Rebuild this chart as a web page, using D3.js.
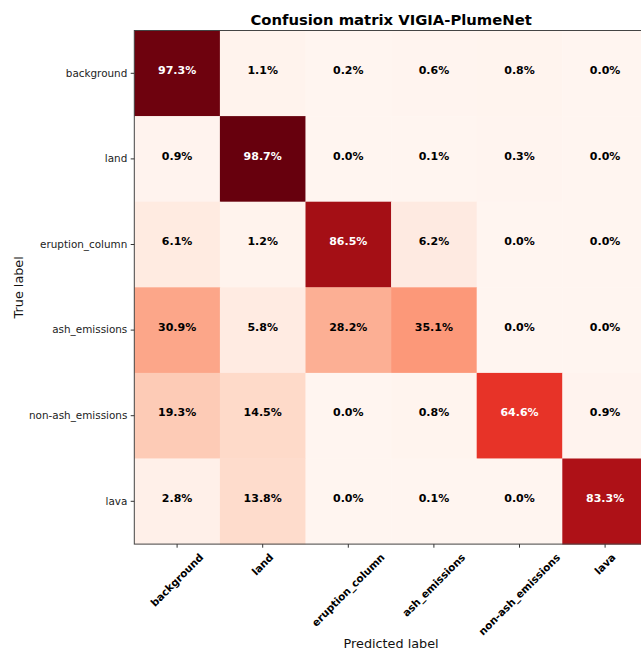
<!DOCTYPE html>
<html>
<head>
<meta charset="utf-8">
<script src="https://cdn.jsdelivr.net/npm/d3@7"></script>
<style>
  html, body { margin: 0; padding: 0; background: #fff; }
  svg { display: block; font-family: "DejaVu Sans", sans-serif; }
</style>
</head>
<body>
<svg id="chart" width="641" height="651"></svg>
<script>
// Class names, in the same order for rows (true) and columns (predicted)
const classes = ["background", "land", "eruption_column", "ash_emissions", "non-ash_emissions", "lava"];

// Row-normalised confusion matrix values, in percent (rows = true label)
const rowBackground = [97.3, 1.1, 0.2, 0.6, 0.8, 0.0];
const rowLand = [0.9, 98.7, 0.0, 0.1, 0.3, 0.0];
const rowEruptionColumn = [6.1, 1.2, 86.5, 6.2, 0.0, 0.0];
const rowAshEmissions = [30.9, 5.8, 28.2, 35.1, 0.0, 0.0];
const rowNonAshEmissions = [19.3, 14.5, 0.0, 0.8, 64.6, 0.9];
const rowLava = [2.8, 13.8, 0.0, 0.1, 0.0, 83.3];
const matrix = [rowBackground, rowLand, rowEruptionColumn, rowAshEmissions, rowNonAshEmissions, rowLava];

// ColorBrewer "Reds" stops, interpolated linearly
const redsStops = ["#fff5f0", "#fee0d2", "#fcbba1", "#fc9272", "#fb6a4a", "#ef3b2c", "#cb181d", "#a50f15", "#67000d"];

const titleText = "Confusion matrix VIGIA-PlumeNet";
const xTitle = "Predicted label";
const yTitle = "True label";

const svg = d3.select("#chart");
const plotLeft = 134.3, plotTop = 30.5, cell = 85.6;
const plotRight = plotLeft + cell * classes.length;
const plotBottom = plotTop + cell * classes.length;

const x = d3.scaleBand().domain(classes).range([plotLeft, plotRight]);
const y = d3.scaleBand().domain(classes).range([plotTop, plotBottom]);

const vmax = d3.max(matrix.flat());
const color = d3.scaleLinear()
  .domain(redsStops.map((_, i) => vmax * i / (redsStops.length - 1)))
  .range(redsStops)
  .interpolate(d3.interpolateRgb)
  .clamp(true);

const cells = [];
matrix.forEach((row, i) => row.forEach((v, j) => cells.push({ t: classes[i], p: classes[j], v })));

// Heatmap cells
svg.append("g").selectAll("rect").data(cells).join("rect")
  .attr("x", d => x(d.p))
  .attr("y", d => y(d.t))
  .attr("width", x.bandwidth() + 0.4)
  .attr("height", y.bandwidth() + 0.4)
  .attr("fill", d => color(d.v));

// Value annotations
svg.append("g").selectAll("text").data(cells).join("text")
  .attr("x", d => x(d.p) + x.bandwidth() / 2)
  .attr("y", d => y(d.t) + y.bandwidth() / 2)
  .attr("dy", "0.07em")
  .attr("text-anchor", "middle")
  .attr("font-size", "11px")
  .attr("font-weight", "bold")
  .attr("fill", d => d.v > vmax / 2 ? "#ffffff" : "#000000")
  .text(d => d.v.toFixed(1) + "%");

// Frame
svg.append("rect")
  .attr("x", plotLeft).attr("y", plotTop)
  .attr("width", plotRight - plotLeft).attr("height", plotBottom - plotTop)
  .attr("fill", "none").attr("stroke", "#444").attr("stroke-width", 1);

// Left axis
const yAxis = svg.append("g")
  .attr("transform", `translate(${plotLeft},0)`)
  .call(d3.axisLeft(y).tickSize(3.6).tickPadding(3.4));
yAxis.select(".domain").remove();
yAxis.selectAll(".tick line").attr("stroke", "#333");
yAxis.selectAll(".tick text")
  .attr("font-size", "10.4px")
  .attr("font-family", "DejaVu Sans, sans-serif")
  .attr("fill", "#222");

// Bottom axis with 45° rotated labels, each centred under its tick
const xAxis = svg.append("g")
  .attr("transform", `translate(0,${plotBottom})`)
  .call(d3.axisBottom(x).tickSize(3.6));
xAxis.select(".domain").remove();
xAxis.selectAll(".tick line").attr("stroke", "#333");
const fsX = 10.4;
xAxis.selectAll(".tick text")
  .attr("font-size", fsX + "px")
  .attr("font-family", "DejaVu Sans, sans-serif")
  .attr("font-weight", "bold")
  .attr("fill", "#000")
  .attr("text-anchor", "middle")
  .attr("dy", "0.33em")
  .each(function () {
    const w = this.getComputedTextLength();
    const h = fsX * 1.17;
    const half = (w + h) / (2 * Math.SQRT2);
    const cy = 3.6 + 3.6 + half;
    d3.select(this).attr("x", 0).attr("y", 0)
      .attr("transform", `translate(0,${cy}) rotate(-45)`);
  });

// Title and axis labels
svg.append("text")
  .attr("x", (plotLeft + plotRight) / 2).attr("y", 25)
  .attr("text-anchor", "middle")
  .attr("font-size", "14.8px").attr("font-weight", "bold")
  .attr("fill", "#000")
  .text(titleText);

svg.append("text")
  .attr("x", (plotLeft + plotRight) / 2).attr("y", 647.5)
  .attr("text-anchor", "middle")
  .attr("font-size", "12.8px")
  .attr("fill", "#111")
  .text(xTitle);

svg.append("text")
  .attr("transform", `translate(22.5,${(plotTop + plotBottom) / 2}) rotate(-90)`)
  .attr("text-anchor", "middle")
  .attr("font-size", "12.8px")
  .attr("fill", "#111")
  .text(yTitle);
</script>
</body>
</html>
